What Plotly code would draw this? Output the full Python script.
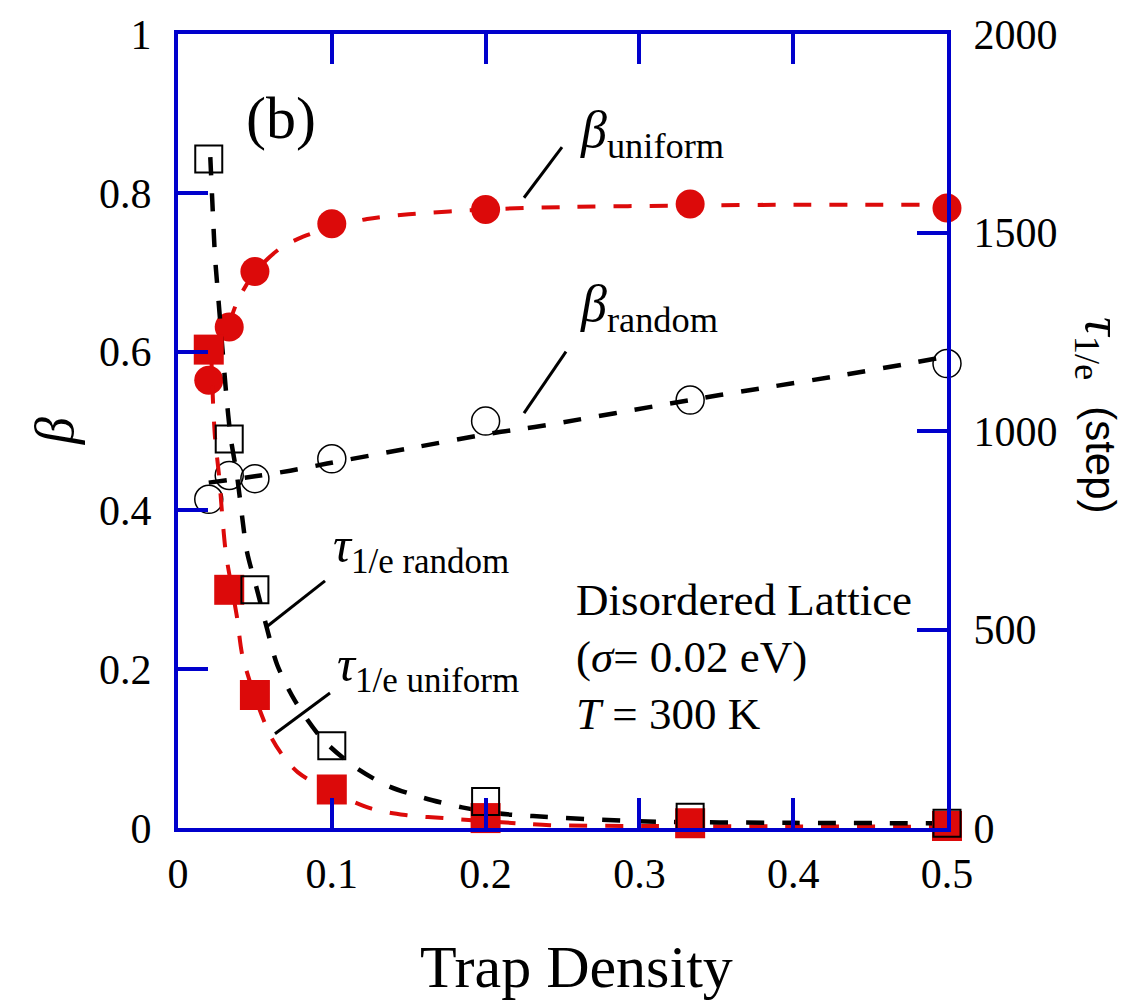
import plotly.graph_objects as go

# ---------------- data ----------------
trap_density = [0.02, 0.0333, 0.05, 0.1, 0.2, 0.333, 0.5]
beta_uniform = [0.564, 0.631, 0.701, 0.761, 0.779, 0.786, 0.781]
beta_random = [0.414, 0.444, 0.440, 0.465, 0.5125, 0.539, 0.585]
tau_random = [1685, 980, 600, 207, 67, 27, 12]
tau_uniform = [1205, 600, 335, 97, 25, 12, 5]

# fitted (dashed) curves
fit_bu_x = [0.0333, 0.039, 0.05, 0.065, 0.078, 0.1, 0.123, 0.15, 0.2, 0.25, 0.333, 0.4, 0.5]
fit_bu_y = [0.635, 0.665, 0.70, 0.728, 0.742, 0.757, 0.767, 0.773, 0.779, 0.782, 0.784, 0.785, 0.785]

fit_br_x = [0.02, 0.05, 0.073, 0.097, 0.15, 0.21, 0.232, 0.333, 0.38, 0.428, 0.478, 0.5]
fit_br_y = [0.435, 0.443, 0.45, 0.459, 0.478, 0.499, 0.505, 0.539, 0.554, 0.569, 0.586, 0.594]

fit_tr_x = [0.021, 0.0228, 0.0241, 0.026, 0.0319, 0.0345, 0.0384, 0.0416, 0.0449, 0.0514, 0.0579,
            0.0644, 0.0761, 0.0936, 0.1138, 0.1359, 0.1606, 0.1847, 0.2074, 0.2308, 0.3, 0.4, 0.5]
fit_tr_y = [1690, 1537, 1437, 1345, 1070, 977, 887, 787, 695, 600, 502,
            412, 320, 225, 157, 107, 75, 52, 37, 30, 17, 13, 12]

fit_tu_x = [0.0215, 0.0228, 0.0241, 0.0267, 0.0286, 0.0312, 0.0384, 0.0423, 0.0611, 0.078,
            0.1248, 0.1489, 0.1723, 0.2204, 0.2419, 0.3, 0.4, 0.5]
fit_tu_y = [1205, 1070, 982, 887, 795, 690, 530, 427, 225, 140,
            50, 32, 25, 12, 7, 5, 4, 3]

x_ticks = [0, 0.1, 0.2, 0.3, 0.4, 0.5]
x_ticklabels = ["0", "0.1", "0.2", "0.3", "0.4", "0.5"]
y_ticks = [0, 0.2, 0.4, 0.6, 0.8, 1]
y_ticklabels = ["0", "0.2", "0.4", "0.6", "0.8", "1"]
y2_ticks = [0, 500, 1000, 1500, 2000]
y2_ticklabels = ["0", "500", "1000", "1500", "2000"]

# ---------------- style ----------------
RED = "#DC0A0A"
BLUE = "#0000CC"
SERIF = "Liberation Serif"
W, H = 1132, 1003
L, R, T, B = 178, 947, 28, 828  # plot area in pixels


def px(xp):
    return (xp - L) / (R - L)


def py(yp):
    return (B - yp) / (B - T)


DASH = "18px,18px"
fig = go.Figure()

fig.add_trace(go.Scatter(x=fit_bu_x, y=fit_bu_y, mode="lines",
                         line=dict(color=RED, width=4, dash=DASH, shape="spline", smoothing=0.8)))
fig.add_trace(go.Scatter(x=fit_br_x, y=fit_br_y, mode="lines",
                         line=dict(color="black", width=4.5, dash=DASH, shape="spline", smoothing=0.8)))
fig.add_trace(go.Scatter(x=fit_tu_x, y=fit_tu_y, mode="lines", yaxis="y2",
                         line=dict(color=RED, width=4, dash=DASH, shape="spline", smoothing=0.8)))
fig.add_trace(go.Scatter(x=fit_tr_x, y=fit_tr_y, mode="lines", yaxis="y2",
                         line=dict(color="black", width=4.5, dash=DASH, shape="spline", smoothing=0.8)))

# filled markers
fig.add_trace(go.Scatter(x=trap_density, y=beta_uniform, mode="markers", cliponaxis=False,
                         marker=dict(symbol="circle", size=29, color=RED, line=dict(width=0))))
fig.add_trace(go.Scatter(x=trap_density, y=tau_uniform, mode="markers", yaxis="y2", cliponaxis=False,
                         marker=dict(symbol="square", size=30, color=RED, line=dict(width=0))))
# open markers
fig.add_trace(go.Scatter(x=trap_density, y=beta_random, mode="markers", cliponaxis=False,
                         marker=dict(symbol="circle-open", size=28, color="black", line=dict(width=1.5))))
fig.add_trace(go.Scatter(x=trap_density, y=tau_random, mode="markers", yaxis="y2", cliponaxis=False,
                         marker=dict(symbol="square-open", size=27, color="black", line=dict(width=2))))

tickfont = dict(family=SERIF, size=42, color="black")
fig.update_layout(
    width=W, height=H, showlegend=False,
    paper_bgcolor="white", plot_bgcolor="white",
    margin=dict(l=L, r=W - R, t=T, b=H - B, pad=0),
    xaxis=dict(range=[0, 0.5], tickvals=x_ticks, ticktext=x_ticklabels, ticks="inside",
               ticklen=30, tickwidth=4, tickcolor=BLUE, showline=True, linecolor=BLUE,
               linewidth=4, mirror="ticks", showgrid=False, zeroline=False,
               tickfont=tickfont, ticklabelstandoff=6),
    yaxis=dict(range=[0, 1], tickvals=y_ticks, ticktext=y_ticklabels, ticks="inside",
               ticklen=30, tickwidth=4, tickcolor=BLUE, showline=True, linecolor=BLUE,
               linewidth=4, showgrid=False, zeroline=False, tickfont=tickfont,
               ticklabelstandoff=14),
    yaxis2=dict(range=[0, 2000], tickvals=y2_ticks, ticktext=y2_ticklabels, ticks="inside",
                ticklen=30, tickwidth=4, tickcolor=BLUE, showline=True, linecolor=BLUE,
                linewidth=4, showgrid=False, zeroline=False, overlaying="y", side="right",
                tickfont=tickfont, ticklabelstandoff=14),
)

ann = []


def add_text(text, x, y, size, xanchor="center", yanchor="middle", angle=0, align="left", family=SERIF):
    ann.append(dict(text=text, x=px(x), y=py(y), xref="paper", yref="paper", showarrow=False,
                    xanchor=xanchor, yanchor=yanchor, textangle=angle, align=align,
                    font=dict(family=family, size=size, color="black")))


add_text("Trap Density", 576, 968, 60)
add_text("<i>β</i>", 55, 428, 54, angle=-90)
add_text("<i>τ</i><sub>1/e</sub>&nbsp;&nbsp;<span style='font-family:Liberation Sans;font-size:42px'>(step)</span>",
         1100, 412, 52, angle=90)
add_text("(b)", 281, 113, 60)
add_text("<i>β</i><sub>uniform</sub>", 578, 128, 52, xanchor="left")
add_text("<i>β</i><sub>random</sub>", 578, 304, 52, xanchor="left")
add_text("<i>τ</i><sub>1/e random</sub>", 331, 547, 50, xanchor="left")
add_text("<i>τ</i><sub>1/e uniform</sub>", 335, 667, 50, xanchor="left")
add_text("Disordered Lattice", 574, 598, 45, xanchor="left")
add_text("(<i>σ</i>= 0.02 eV)", 574, 656, 45, xanchor="left")
add_text("<i>T</i> = 300 K", 574, 713, 45, xanchor="left")
fig.update_layout(annotations=ann)

leaders = [((524, 193), (562, 142)), ((524, 410), (566, 348)),
           ((267, 625), (325, 579)), ((275, 733), (330, 692))]
for (x0, y0), (x1, y1) in leaders:
    fig.add_shape(type="line", xref="paper", yref="paper", x0=px(x0), y0=py(y0), x1=px(x1), y1=py(y1),
                  line=dict(color="black", width=3))

fig.write_html("out.html")
